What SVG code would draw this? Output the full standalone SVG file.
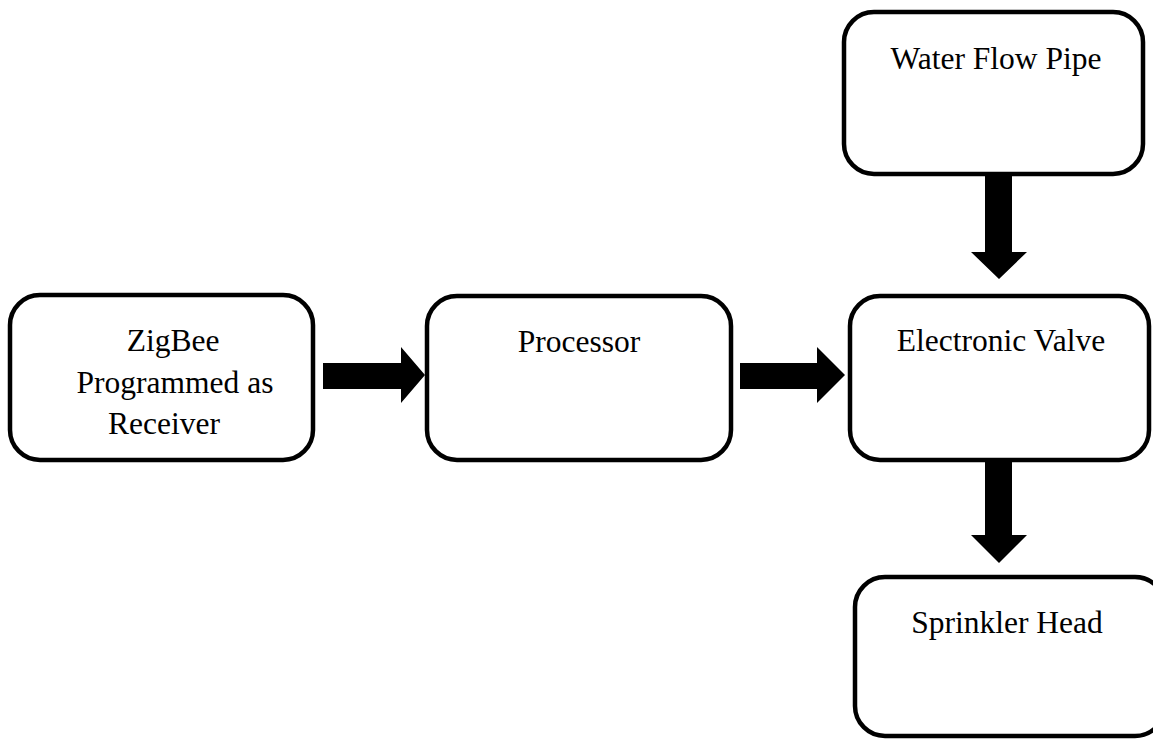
<svg xmlns="http://www.w3.org/2000/svg" width="1153" height="740" viewBox="0 0 1153 740">
<style>
.box{fill:#fff;stroke:#000;stroke-width:4.5}
.lbl{font-family:"Liberation Serif","Times New Roman",serif;font-size:31.5px;fill:#000;text-anchor:middle}
.arr{fill:#000;stroke:none}
</style>
<rect width="1153" height="740" fill="#fff"/>
<g id="connectors">
<polygon class="arr" points="323,363 401,363 401,347 425,375 401,403 401,389 323,389"/>
<polygon class="arr" points="740,363 817,363 817,347 845,375 817,403 817,389 740,389"/>
<polygon class="arr" points="985,175 1012,175 1012,252 1027,252 999,279 971,252 985,252"/>
<polygon class="arr" points="985,462 1012,462 1012,535 1027,535 999,563 971,535 985,535"/>
</g>
<g id="zigbee">
<rect class="box" x="10" y="295" width="303" height="165" rx="30"/>
<text class="lbl" x="173" y="351">ZigBee</text>
<text class="lbl" x="175" y="393">Programmed as</text>
<text class="lbl" x="164" y="434">Receiver</text>
</g>
<g id="processor">
<rect class="box" x="427" y="296" width="304" height="164" rx="30"/>
<text class="lbl" x="579" y="352">Processor</text>
</g>
<g id="valve">
<rect class="box" x="850" y="296" width="299" height="164" rx="30"/>
<text class="lbl" x="1001" y="351">Electronic Valve</text>
</g>
<g id="pipe">
<rect class="box" x="844" y="12" width="299" height="162" rx="30"/>
<text class="lbl" x="996" y="69">Water Flow Pipe</text>
</g>
<g id="sprinkler">
<rect class="box" x="855" y="577" width="310" height="159" rx="30"/>
<text class="lbl" x="1007" y="633">Sprinkler Head</text>
</g>
</svg>
